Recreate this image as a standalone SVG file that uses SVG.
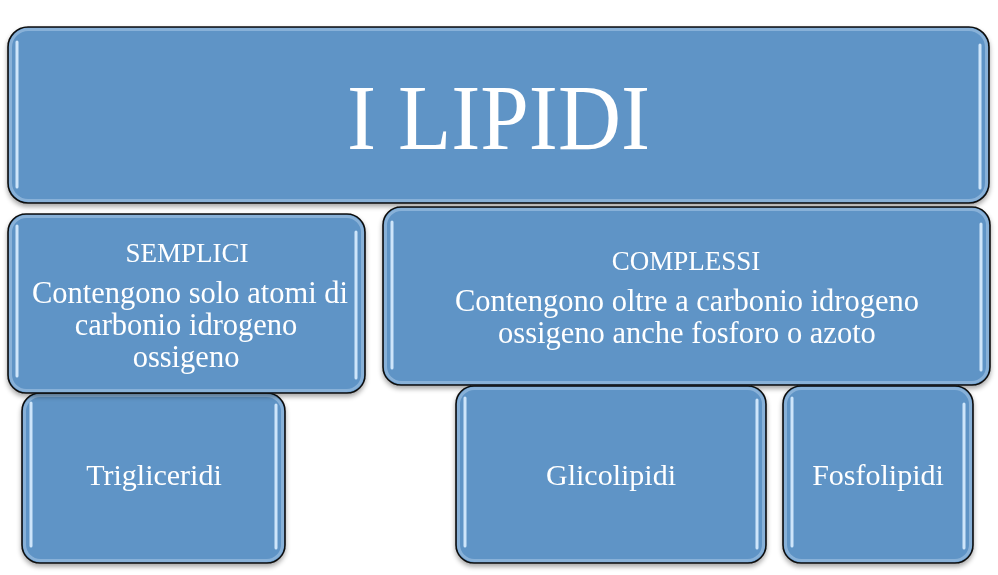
<svg xmlns="http://www.w3.org/2000/svg" width="998" height="575" viewBox="0 0 998 575">
<style>
.box{fill:#5F94C6;stroke:#0d0d0d;stroke-width:1.6}
.bevel{fill:none;stroke:#a9c8e8;stroke-opacity:0.55;stroke-width:3}
.hl{stroke:#d4e9fd;stroke-width:3;stroke-linecap:round;stroke-opacity:0.95}
text{font-family:"Liberation Serif","Times New Roman",serif;fill:#ffffff;text-anchor:middle}
.t1{font-size:27px}
.t2{font-size:30.5px}
.t3{font-size:30px}
</style>
<defs>
<filter id="sh" x="-5%" y="-5%" width="110%" height="115%">
<feGaussianBlur in="SourceAlpha" stdDeviation="2.5"/>
<feOffset dx="0" dy="3" result="b"/>
<feComponentTransfer><feFuncA type="linear" slope="0.35"/></feComponentTransfer>
<feMerge><feMergeNode/><feMergeNode in="SourceGraphic"/></feMerge>
</filter>
</defs>
<rect width="998" height="575" fill="#ffffff"/>
<g id="connectors"/>
<g id="node-lipidi" filter="url(#sh)">
<rect class="box" x="8" y="27" width="981" height="176" rx="20"/>
<rect class="bevel" x="10.5" y="29.5" width="976" height="171" rx="18"/>
<line class="hl" x1="17" y1="42" x2="17" y2="187"/>
<line class="hl" x1="980" y1="45" x2="980" y2="188"/>
<text x="498.5" y="149" font-size="94" textLength="303" lengthAdjust="spacingAndGlyphs">I LIPIDI</text>
</g>
<g id="node-trigliceridi" filter="url(#sh)">
<rect class="box" x="22" y="393" width="263" height="170" rx="18"/>
<rect class="bevel" x="24.5" y="395.5" width="258" height="165" rx="16"/>
<line class="hl" x1="31" y1="403" x2="31" y2="546"/>
<line class="hl" x1="276" y1="405" x2="276" y2="548"/>
<text class="t3" x="154" y="485">Trigliceridi</text>
</g>
<g id="node-semplici" filter="url(#sh)">
<rect class="box" x="8" y="214" width="357" height="179" rx="18"/>
<rect class="bevel" x="10.5" y="216.5" width="352" height="174" rx="16"/>
<line class="hl" x1="17" y1="226" x2="17" y2="376"/>
<line class="hl" x1="356" y1="232" x2="356" y2="378"/>
<text class="t1" x="187" y="262">SEMPLICI</text>
<text class="t2" x="190" y="303">Contengono solo atomi di</text>
<text class="t2" x="186" y="335">carbonio idrogeno</text>
<text class="t2" x="186" y="367">ossigeno</text>
</g>
<g id="node-complessi" filter="url(#sh)">
<rect class="box" x="383" y="207" width="607" height="178" rx="18"/>
<rect class="bevel" x="385.5" y="209.5" width="602" height="173" rx="16"/>
<line class="hl" x1="392" y1="222" x2="392" y2="368"/>
<line class="hl" x1="981" y1="224" x2="981" y2="370"/>
<text class="t1" x="686" y="270">COMPLESSI</text>
<text class="t2" x="687" y="311">Contengono oltre a carbonio idrogeno</text>
<text class="t2" x="687" y="343">ossigeno anche fosforo o azoto</text>
</g>
<g id="node-glicolipidi" filter="url(#sh)">
<rect class="box" x="456" y="386" width="310" height="177" rx="18"/>
<rect class="bevel" x="458.5" y="388.5" width="305" height="172" rx="16"/>
<line class="hl" x1="465" y1="398" x2="465" y2="546"/>
<line class="hl" x1="757" y1="400" x2="757" y2="548"/>
<text class="t3" x="611" y="485">Glicolipidi</text>
</g>
<g id="node-fosfolipidi" filter="url(#sh)">
<rect class="box" x="783" y="386" width="190" height="177" rx="18"/>
<rect class="bevel" x="785.5" y="388.5" width="185" height="172" rx="16"/>
<line class="hl" x1="792" y1="398" x2="792" y2="546"/>
<line class="hl" x1="964" y1="404" x2="964" y2="548"/>
<text class="t3" x="878" y="485">Fosfolipidi</text>
</g>
</svg>
